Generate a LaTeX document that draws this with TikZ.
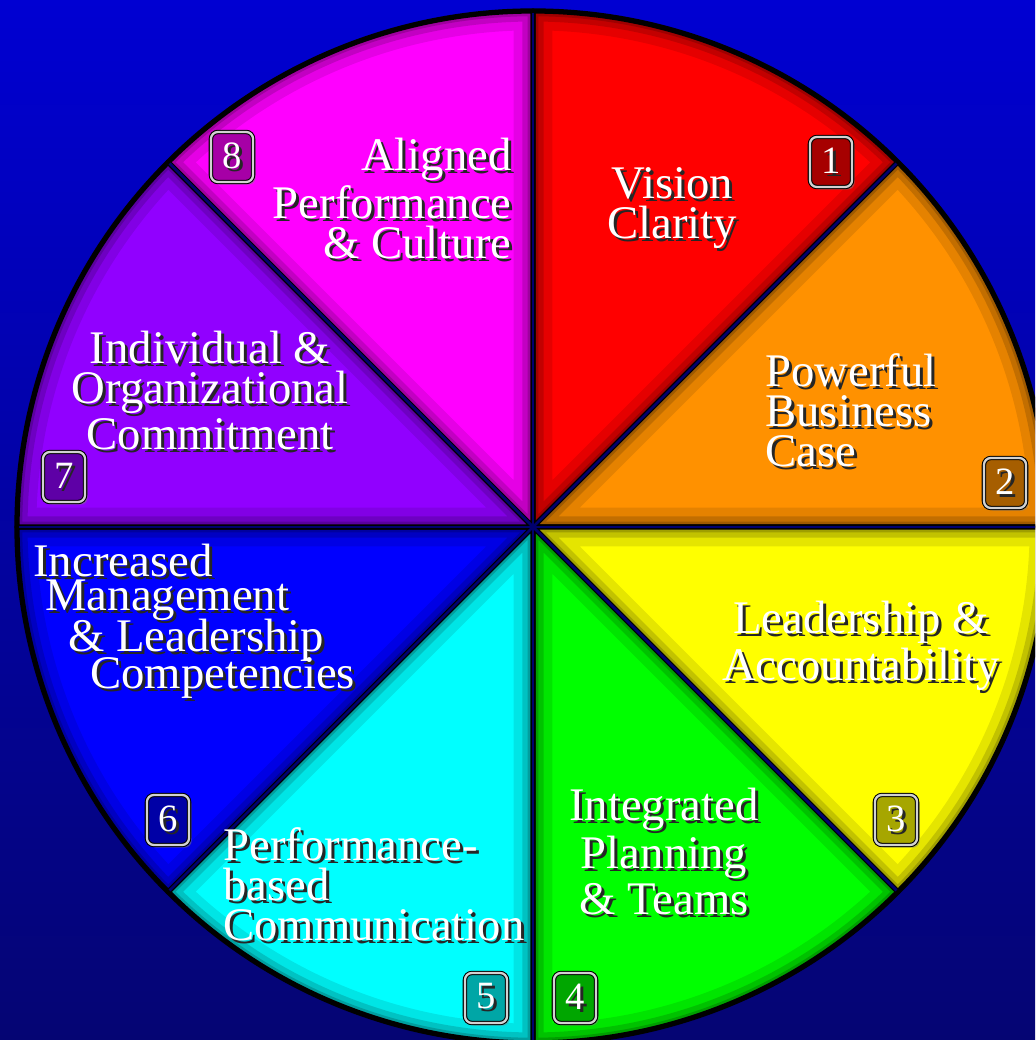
\documentclass[tikz,border=0pt]{standalone}
\usepackage{fontspec}
\setmainfont{Liberation Serif}
\usetikzlibrary{shadows}
\definecolor{cR}{RGB}{255,0,0}
\definecolor{cO}{RGB}{255,145,0}
\definecolor{cY}{RGB}{255,255,0}
\definecolor{cG}{RGB}{0,255,0}
\definecolor{cC}{RGB}{0,255,255}
\definecolor{cB}{RGB}{0,0,255}
\definecolor{cP}{RGB}{145,0,255}
\definecolor{cM}{RGB}{255,0,255}
\definecolor{bgTop}{RGB}{0,0,210}
\definecolor{bgBot}{RGB}{5,5,115}
\definecolor{navy}{RGB}{0,0,110}
\newcommand\Sh[1]{\makebox[0pt][l]{\kern1.7pt\raisebox{-1.7pt}{\textcolor{black!85}{#1}}}#1}
\newcommand\Num[5]{%
  \node[numbox,fill=#4!65!black] (#1) at (#2,#3) {\Sh{#5}};}
\begin{document}
\begin{tikzpicture}[x=0.02cm,y=0.02cm,
  lbl/.style={text=white,font=\fontsize{26.6}{22.7}\selectfont,inner sep=0pt},
  numbox/.style={draw=black,double=gray!35,double distance=1.3pt,line width=.6pt,
    minimum width=24pt,minimum height=28.5pt,rounded corners=4pt,inner sep=0pt,
    text=white,font=\fontsize{22}{22}\selectfont,
    drop shadow={opacity=.5,shadow xshift=1.5pt,shadow yshift=-1.5pt}}]
\useasboundingbox (0,0) rectangle (1035,1040);
\clip (0,0) rectangle (1035,1040);
\shade[top color=bgTop,bottom color=bgBot] (0,0) rectangle (1035,1040);
\coordinate (C) at (533,513);
% slices
\foreach \a/\c in {45/cR,0/cO,-45/cY,-90/cG,-135/cC,180/cB,135/cP,90/cM}{
  \fill[\c] (C) -- ++(\a:516) arc[start angle=\a,delta angle=45,radius=516] -- cycle;
  \begin{scope}
    \clip (C) -- ++(\a:516) arc[start angle=\a,delta angle=45,radius=516] -- cycle;
    \draw[black,opacity=.10,line width=22pt] (C) -- ++(\a:516) arc[start angle=\a,delta angle=45,radius=516] -- cycle;
    \draw[black,opacity=.15,line width=12pt] (C) -- ++(\a:516) arc[start angle=\a,delta angle=45,radius=516] -- cycle;
    \draw[black,opacity=.18,line width=6pt] (C) -- ++(\a:516) arc[start angle=\a,delta angle=45,radius=516] -- cycle;
  \end{scope}
  \draw[black,line width=3pt,line join=round] (C) -- ++(\a:516) arc[start angle=\a,delta angle=45,radius=516] -- cycle;
}
\foreach \a in {0,45,...,315}{
  \draw[navy,line width=1.6pt] (C) -- ++(\a:514);
}
% labels
\node[lbl,anchor=east,align=right] (t8) at (512,840) {\Sh{Aligned}\\\Sh{Performance}\\\Sh{\& Culture}};
\node[lbl,align=center] (t1) at (672,830) {\Sh{Vision}\\\Sh{Clarity}};
\node[lbl,anchor=west,align=left] (t2) at (765,628) {\Sh{Powerful}\\\Sh{Business}\\\Sh{Case}};
\node[lbl,align=center] (t3) at (861,393) {\Sh{Leadership \&}\\\Sh{Accountability}};
\node[lbl,align=center] (t4) at (664,187) {\Sh{Integrated}\\\Sh{Planning}\\\Sh{\& Teams}};
\node[lbl,anchor=west,align=left] (t5) at (223,154) {\Sh{Performance-}\\\Sh{based}\\\Sh{Communication}};
\node[lbl,anchor=west] (t6a) at (33,478) {\Sh{Increased}};
\node[lbl,anchor=west] (t6b) at (45,438) {\Sh{Management}};
\node[lbl,anchor=west] (t6c) at (68,398) {\Sh{\& Leadership}};
\node[lbl,anchor=west] (t6d) at (90,360) {\Sh{Competencies}};
\node[lbl,align=center] (t7) at (210,648) {\Sh{Individual \&}\\\Sh{Organizational}\\\Sh{Commitment}};
% number boxes
\Num{n1}{831}{878}{cR}{1}
\Num{n2}{1005}{557}{cO}{2}
\Num{n3}{896}{220}{cY}{3}
\Num{n4}{575}{42}{cG}{4}
\Num{n5}{486}{42}{cC}{5}
\Num{n6}{168}{220}{cB}{6}
\Num{n7}{64}{563}{cP}{7}
\Num{n8}{232}{883}{cM}{8}
\end{tikzpicture}
\end{document}
